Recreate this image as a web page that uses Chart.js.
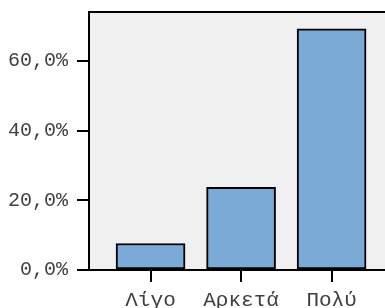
<!DOCTYPE html>
<html lang="el">
<head>
<meta charset="utf-8">
<title>Bar chart</title>
<script src="https://cdn.jsdelivr.net/npm/chart.js@4/dist/chart.umd.min.js"></script>
<style>
  body { margin: 0; background: #fff; }
</style>
</head>
<body>
<canvas id="chart" width="385" height="308"></canvas>
<script>
// data
var categories = ["Λίγο", "Αρκετά", "Πολύ"];
var percents = [7.6, 23.7, 69.2];
var yTicks = [0, 20, 40, 60];

var points = [];
for (var i = 0; i < categories.length; i++) {
  points.push({ x: i + 1, y: percents[i] });
}

var fontFamily = "'Liberation Mono', 'Courier New', monospace";

// grey plot background and the top frame line
var frame = {
  id: 'frame',
  beforeDraw: function (chart) {
    var a = chart.chartArea, ctx = chart.ctx;
    ctx.save();
    ctx.fillStyle = '#f0f0f0';
    ctx.fillRect(a.left, a.top, a.right - a.left, a.bottom - a.top);
    ctx.restore();
  },
  afterDraw: function (chart) {
    var a = chart.chartArea, ctx = chart.ctx;
    ctx.save();
    ctx.strokeStyle = '#000';
    ctx.lineWidth = 2;
    ctx.beginPath();
    ctx.moveTo(a.left, a.top);
    ctx.lineTo(a.right, a.top);
    ctx.stroke();
    ctx.restore();
  }
};

new Chart(document.getElementById('chart'), {
  type: 'bar',
  data: {
    datasets: [{
      data: points,
      backgroundColor: '#7baad7',
      borderColor: '#000',
      borderWidth: 2,
      borderSkipped: false,
      barThickness: 69
    }]
  },
  options: {
    responsive: false,
    animation: false,
    layout: { padding: { top: 12, right: 0, left: 0, bottom: 0 } },
    plugins: { legend: { display: false }, tooltip: { enabled: false } },
    scales: {
      x: {
        type: 'linear',
        offset: false,
        min: 0.32,
        max: 3.59,
        afterBuildTicks: function (s) {
          s.ticks = categories.map(function (c, i) { return { value: i + 1 }; });
        },
        afterFit: function (s) {
          s.height = 38;
          s.paddingLeft = 0;
          s.paddingRight = 0;
        },
        ticks: {
          font: { family: fontFamily, size: 21 },
          color: '#404040',
          padding: 6,
          maxRotation: 0,
          autoSkip: false,
          callback: function (v) { return categories[v - 1]; }
        },
        grid: { offset: false, drawOnChartArea: false, tickLength: 12, color: '#000', lineWidth: 2 },
        border: { color: '#000', width: 2 }
      },
      y: {
        min: 0,
        max: 74,
        afterBuildTicks: function (s) {
          s.ticks = yTicks.map(function (v) { return { value: v }; });
        },
        afterFit: function (s) {
          s.width = 89;
          s.paddingTop = 0;
          s.paddingBottom = 0;
        },
        ticks: {
          font: { family: fontFamily, size: 20 },
          color: '#404040',
          padding: 9,
          callback: function (v) { return v.toFixed(1).replace('.', ',') + '%'; }
        },
        grid: { drawOnChartArea: false, tickLength: 12, color: '#000', lineWidth: 2 },
        border: { color: '#000', width: 2 }
      }
    }
  },
  plugins: [frame]
});
</script>
</body>
</html>
